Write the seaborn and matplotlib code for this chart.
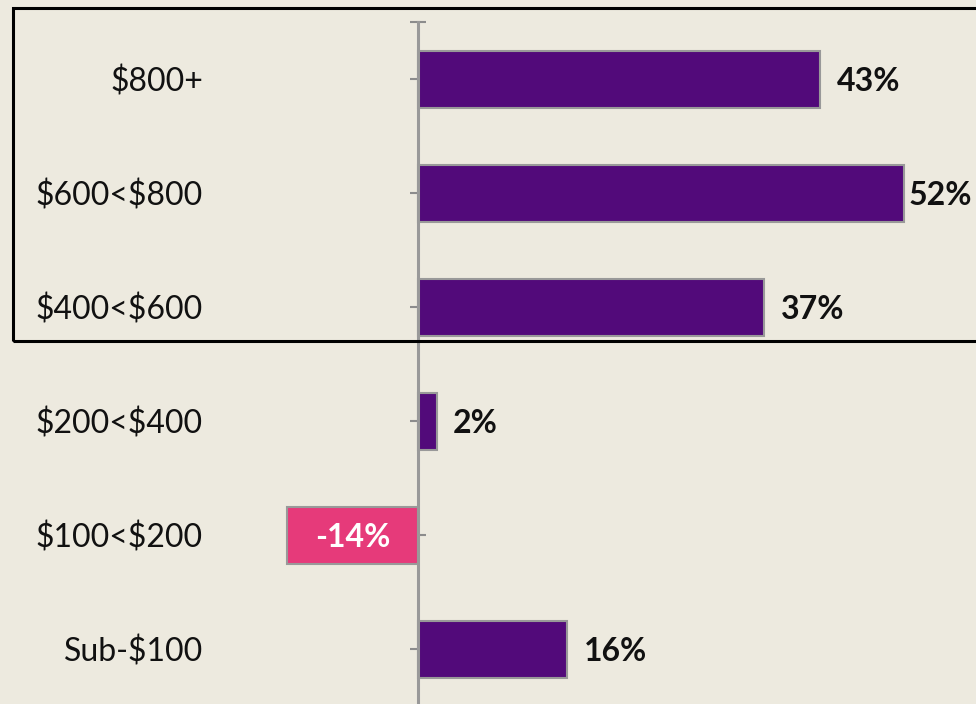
import matplotlib.pyplot as plt
import matplotlib.transforms as mtransforms
from matplotlib.patches import Rectangle
import seaborn as sns

categories = ['$800+', '$600<$800', '$400<$600', '$200<$400', '$100<$200', 'Sub-$100']
values = [43, 52, 37, 2, -14, 16]

purple = '#520A7A'
pink = '#E63A7A'
bg = '#EDEADF'
colors = [pink if v < 0 else purple for v in values]

sns.set_style('white')
plt.rcParams['font.family'] = ['Lato', 'DejaVu Sans']

fig = plt.figure(figsize=(9.76, 7.04), dpi=100, facecolor=bg)
ax = fig.add_axes([0, 0, 1, 1], facecolor=bg)

sns.barplot(x=values, y=categories, hue=categories, palette=colors, orient='h',
            width=0.5, edgecolor='#999999', linewidth=1.5, legend=False,
            saturation=1, ax=ax)

ax.set_xlim(-44.7, 59.7)
ax.set_ylim(5.482, -0.693)

for s in ['top', 'right', 'bottom']:
    ax.spines[s].set_visible(False)
ax.spines['left'].set_position(('data', 0))
ax.spines['left'].set_bounds(-0.5, 5.6)
ax.spines['left'].set_color('#999999')
ax.spines['left'].set_linewidth(2.2)
ax.set_xticks([])
ax.set_yticks([-0.5] + list(range(len(categories))))
ax.set_yticklabels([])
ax.tick_params(axis='y', direction='inout', length=11, width=1.5, color='#8c8c8c', left=True)
ax.set_xlabel('')
ax.set_ylabel('')

fs = 23
trans = mtransforms.blended_transform_factory(ax.transAxes, ax.transData)
for i, cat in enumerate(categories):
    ax.text(0.208, i + 0.025, cat, transform=trans, ha='right', va='center',
            fontsize=fs, color='#111111', parse_math=False)

for i, v in enumerate(values):
    label = f'{v}%'
    if v < 0:
        ax.text(v / 2, i + 0.025, label, ha='center', va='center', fontsize=fs,
                fontweight='bold', color='white', parse_math=False)
    else:
        off = 3 if v > 50 else 12
        ax.annotate(label, (v, i), xytext=(off, -2), textcoords='offset points',
                    ha='left', va='center', fontsize=fs, fontweight='bold',
                    color='#111111', annotation_clip=False)

box = Rectangle((13 / 976, 1 - 341 / 704), 1.0, 333 / 704, transform=fig.transFigure,
                fill=False, edgecolor='black', linewidth=2.2, clip_on=False)
fig.patches.append(box)

fig.savefig('out.png', dpi=100, facecolor=bg)
